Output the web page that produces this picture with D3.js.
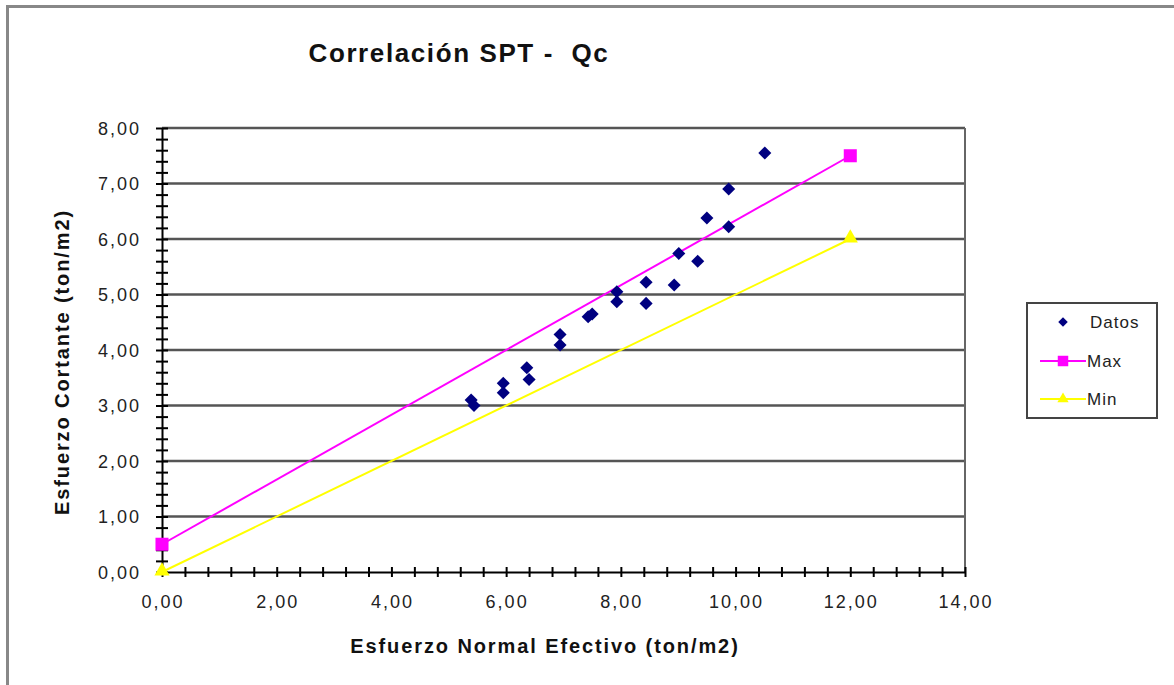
<!DOCTYPE html>
<head>
  <meta charset="utf-8">
  <script src="https://d3js.org/d3.v7.min.js"></script>
  <style>
    body { margin:0; background:#fff; }
    text { font-family: "Liberation Sans", Arial, sans-serif; white-space: pre; }
  </style>
</head>
<body>
<script>
  // datos medidos (esfuerzo normal, esfuerzo cortante)
  var datosX = [5.39, 5.44, 5.95, 5.95, 6.36, 6.40, 6.94, 6.94, 7.43, 7.50, 7.93,
                7.93, 8.44, 8.44, 8.93, 9.01, 9.34, 9.50, 9.88, 9.88, 10.51];
  var datosY = [3.10, 3.00, 3.40, 3.23, 3.68, 3.47, 4.28, 4.09, 4.60, 4.65, 5.05,
                4.87, 5.22, 4.84, 5.17, 5.74, 5.60, 6.38, 6.90, 6.22, 7.55];
  var maxX = [0, 12], maxY = [0.5, 7.5];
  var minX = [0, 12], minY = [0, 6];
  var xTicks = [0, 2, 4, 6, 8, 10, 12, 14];
  var yTicks = [0, 1, 2, 3, 4, 5, 6, 7, 8];
  var seriesNames = ["Datos", "Max", "Min"];

  var W = 1174, H = 685;
  var svg = d3.select("body").append("svg")
    .attr("width", W).attr("height", H);

  // chart frame
  svg.append("rect")
    .attr("x", 7.5).attr("y", 6.5)
    .attr("width", W).attr("height", H)
    .attr("fill", "none").attr("stroke", "#888").attr("stroke-width", 3);

  svg.append("text")
    .attr("x", 459).attr("y", 62)
    .attr("text-anchor", "middle")
    .attr("font-size", 26).attr("font-weight", "bold").attr("fill", "#111")
    .attr("letter-spacing", 1.6)
    .text("Correlación SPT -  Qc");

  var x = d3.scaleLinear().domain([0, 14]).range([162, 965]);
  var y = d3.scaleLinear().domain([0, 8]).range([572, 128]);

  // gridlines
  svg.append("g").selectAll("line")
    .data(yTicks.slice(1))
    .enter().append("line")
    .attr("x1", x(0)).attr("x2", x(14))
    .attr("y1", function(d) { return y(d); })
    .attr("y2", function(d) { return y(d); })
    .attr("stroke", "#555").attr("stroke-width", 2.5);

  svg.append("line")
    .attr("x1", x(14)).attr("x2", x(14))
    .attr("y1", y(0)).attr("y2", y(8))
    .attr("stroke", "#666").attr("stroke-width", 2);

  var fmt = function(d) { return d3.format(".2f")(d).replace(".", ","); };

  // x axis
  var xAxis = d3.axisBottom(x)
    .tickValues(d3.range(0, 14.01, 0.4))
    .tickSize(0)
    .tickFormat("");
  var gx = svg.append("g")
    .attr("transform", "translate(0," + y(0) + ")")
    .call(xAxis);
  gx.select(".domain").attr("stroke", "#000").attr("stroke-width", 2);
  gx.selectAll(".tick line")
    .attr("y1", -5).attr("y2", 5)
    .attr("stroke", "#000").attr("stroke-width", 2);
  svg.append("g").selectAll("text")
    .data(xTicks)
    .enter().append("text")
    .attr("x", function(d) { return x(d) + 1; })
    .attr("y", 608)
    .attr("text-anchor", "middle")
    .attr("font-size", 18).attr("fill", "#222").attr("letter-spacing", 2)
    .text(fmt);

  // y axis
  var yAxis = d3.axisLeft(y)
    .tickValues(d3.range(0, 8.01, 0.2))
    .tickSize(0)
    .tickFormat("");
  var gy = svg.append("g")
    .attr("transform", "translate(" + x(0) + ",0)")
    .call(yAxis);
  gy.select(".domain").attr("stroke", "#000").attr("stroke-width", 2);
  gy.selectAll(".tick line")
    .attr("x1", -6).attr("x2", 6)
    .attr("stroke", "#000").attr("stroke-width", 2);
  svg.append("g").selectAll("text")
    .data(yTicks)
    .enter().append("text")
    .attr("x", 141)
    .attr("y", function(d) { return y(d) + 6.5; })
    .attr("text-anchor", "end")
    .attr("font-size", 18).attr("fill", "#222").attr("letter-spacing", 2)
    .text(fmt);

  // axis titles
  svg.append("text")
    .attr("x", 545).attr("y", 653)
    .attr("text-anchor", "middle")
    .attr("font-size", 20).attr("font-weight", "bold").attr("fill", "#111")
    .attr("letter-spacing", 1.9)
    .text("Esfuerzo Normal Efectivo (ton/m2)");
  svg.append("text")
    .attr("transform", "translate(69,362) rotate(-90)")
    .attr("text-anchor", "middle")
    .attr("font-size", 20).attr("font-weight", "bold").attr("fill", "#111")
    .attr("letter-spacing", 1.9)
    .text("Esfuerzo Cortante (ton/m2)");

  var line = d3.line()
    .x(function(d) { return x(d[0]); })
    .y(function(d) { return y(d[1]); });

  var maxPts = d3.zip(maxX, maxY), minPts = d3.zip(minX, minY);

  svg.append("path").datum(minPts)
    .attr("d", line).attr("fill", "none")
    .attr("stroke", "#ffff00").attr("stroke-width", 2);
  svg.append("path").datum(maxPts)
    .attr("d", line).attr("fill", "none")
    .attr("stroke", "#ff00ff").attr("stroke-width", 2);

  var diamond = d3.symbol().type(d3.symbolSquare).size(85);
  var square = d3.symbol().type(d3.symbolSquare).size(170);
  var tri = d3.symbol().type(d3.symbolTriangle).size(100);

  svg.append("g").selectAll("path")
    .data(d3.zip(datosX, datosY))
    .enter().append("path")
    .attr("d", diamond)
    .attr("transform", function(d) { return "translate(" + x(d[0]) + "," + y(d[1]) + ") rotate(45)"; })
    .attr("fill", "#000080");

  svg.append("g").selectAll("path")
    .data(maxPts)
    .enter().append("path")
    .attr("d", square)
    .attr("transform", function(d) { return "translate(" + x(d[0]) + "," + y(d[1]) + ")"; })
    .attr("fill", "#ff00ff");
  svg.append("g").selectAll("path")
    .data(minPts)
    .enter().append("path")
    .attr("d", tri)
    .attr("transform", function(d) { return "translate(" + x(d[0]) + "," + (y(d[1]) - 1) + ")"; })
    .attr("fill", "#ffff00");

  // legend
  var lg = svg.append("g");
  lg.append("rect")
    .attr("x", 1027).attr("y", 303).attr("width", 130).attr("height", 115)
    .attr("fill", "#fff").attr("stroke", "#444").attr("stroke-width", 2);
  var rowY = [322, 361, 399];
  var legColors = ["#000080", "#ff00ff", "#ffff00"];
  var legSyms = [d3.symbol().type(d3.symbolSquare).size(45),
                 d3.symbol().type(d3.symbolSquare).size(110),
                 d3.symbol().type(d3.symbolTriangle).size(55)];
  seriesNames.forEach(function(name, i) {
    if (i > 0) {
      lg.append("line")
        .attr("x1", 1040).attr("x2", 1086)
        .attr("y1", rowY[i]).attr("y2", rowY[i])
        .attr("stroke", legColors[i]).attr("stroke-width", 2);
    }
    lg.append("path")
      .attr("d", legSyms[i])
      .attr("transform", "translate(1063," + rowY[i] + ")" + (i == 0 ? " rotate(45)" : ""))
      .attr("fill", legColors[i]);
    lg.append("text")
      .attr("x", i == 0 ? 1090 : 1087).attr("y", rowY[i] + 6)
      .attr("font-size", 17).attr("fill", "#222").attr("letter-spacing", 1)
      .text(name);
  });
</script>
</body>
